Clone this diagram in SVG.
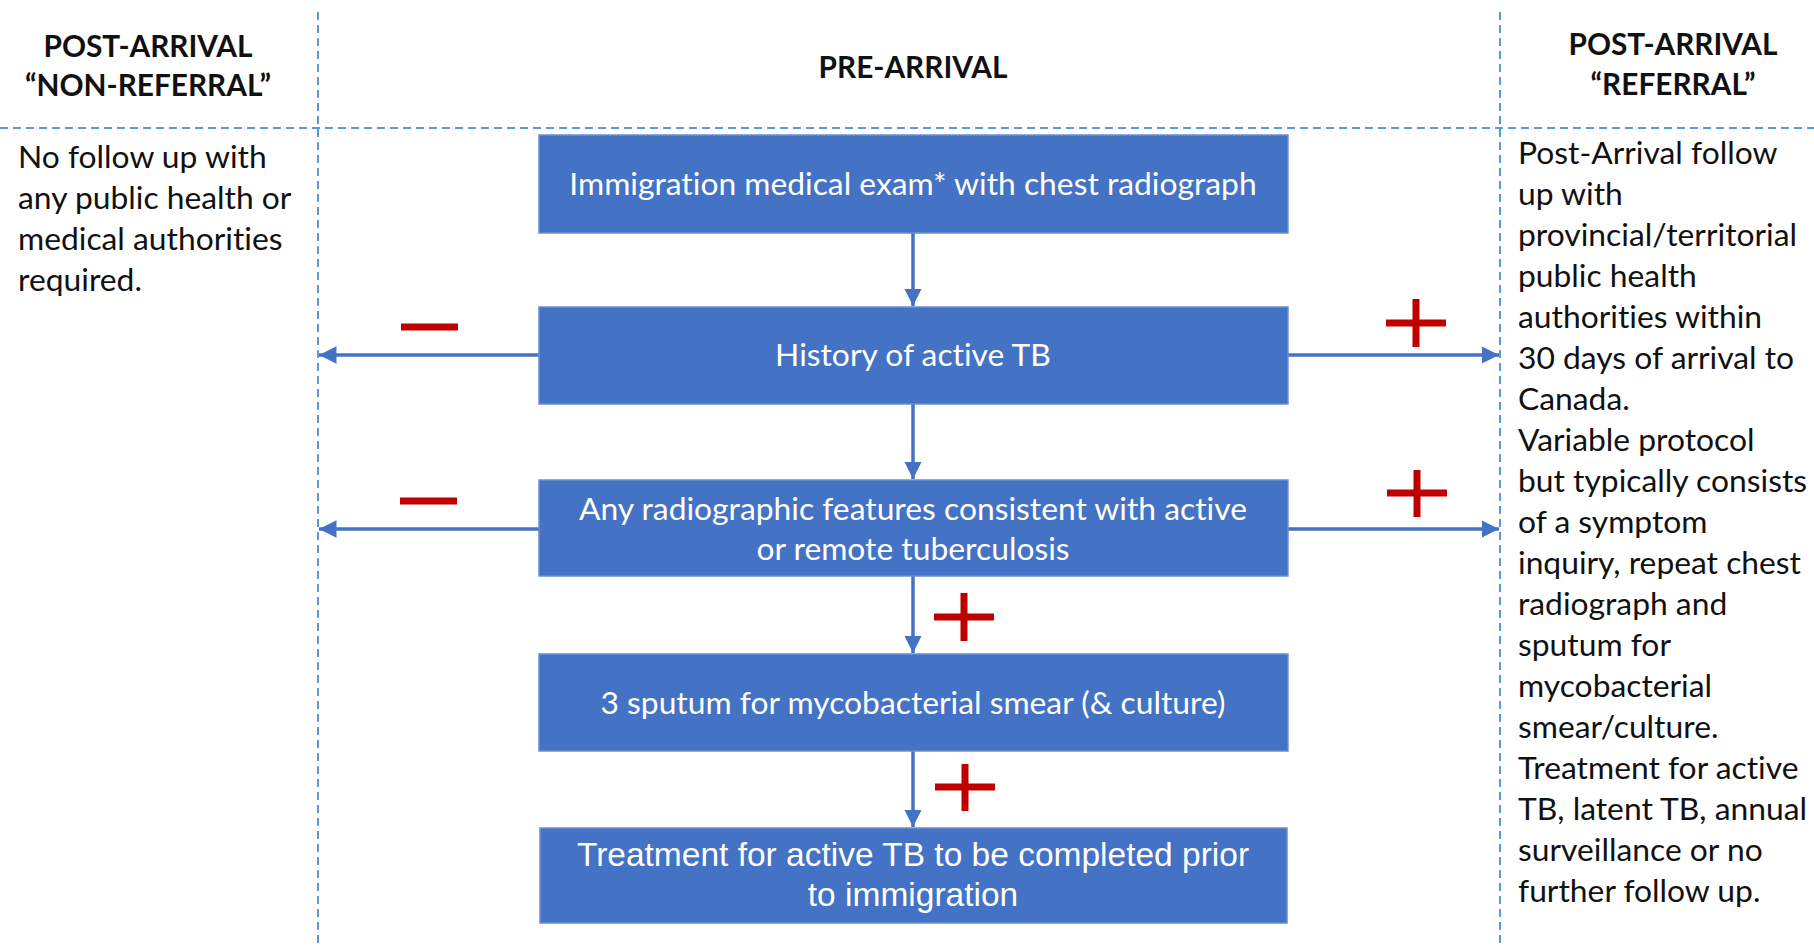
<svg xmlns="http://www.w3.org/2000/svg" width="1814" height="946" viewBox="0 0 1814 946">
<style>
text{font-variant-ligatures:none}
.dash{stroke:#5B9BD5;stroke-width:2;stroke-dasharray:8 5;fill:none}
.box{fill:#4472C4;stroke:#6A8FD2;stroke-width:1.5}
.bt{font-family:Lato,"Open Sans",sans-serif;font-size:31.8px;fill:#fff;text-anchor:middle}
.bt2{font-family:"Liberation Sans",Arial,sans-serif;font-size:33.5px;fill:#fff;text-anchor:middle}
.hd{font-family:Lato,"Open Sans",sans-serif;font-size:29.8px;font-weight:bold;fill:#111;text-anchor:middle}
.tx{font-family:Lato,"Open Sans",sans-serif;font-size:31.8px;fill:#111}
.conn{stroke:#4472C4;stroke-width:3.5;fill:none}
.sign{stroke:#C00000;stroke-width:7;fill:none}
</style>
<defs>
<marker id="ah" viewBox="0 0 10 10" refX="10" refY="5" markerWidth="5" markerHeight="5" markerUnits="strokeWidth" orient="auto">
<path d="M0,0 L10,5 L0,10 z" fill="#4472C4"/>
</marker>
</defs>
<rect width="1814" height="946" fill="#fff"/>
<g id="gridlines">
<line class="dash" x1="318" y1="12" x2="318" y2="946"/>
<line class="dash" x1="1500" y1="12" x2="1500" y2="946"/>
<line class="dash" x1="0" y1="128" x2="1814" y2="128"/>
</g>
<g id="headers">
<text class="hd" x="148" y="57">POST-ARRIVAL</text>
<text class="hd" x="148" y="96">“NON-REFERRAL”</text>
<text class="hd" x="913" y="78">PRE-ARRIVAL</text>
<text class="hd" x="1673" y="55">POST-ARRIVAL</text>
<text class="hd" x="1673" y="95">“REFERRAL”</text>
</g>
<g id="non-referral-text">
<text class="tx" x="18" y="168">No follow up with</text>
<text class="tx" x="18" y="209">any public health or</text>
<text class="tx" x="18" y="250">medical authorities</text>
<text class="tx" x="18" y="291">required.</text>
</g>
<g id="referral-text">
<text class="tx" x="1518" y="164">Post-Arrival follow</text>
<text class="tx" x="1518" y="205">up with</text>
<text class="tx" x="1518" y="246">provincial/territorial</text>
<text class="tx" x="1518" y="287">public health</text>
<text class="tx" x="1518" y="328">authorities within</text>
<text class="tx" x="1518" y="369">30 days of arrival to</text>
<text class="tx" x="1518" y="410">Canada.</text>
<text class="tx" x="1518" y="451">Variable protocol</text>
<text class="tx" x="1518" y="492">but typically consists</text>
<text class="tx" x="1518" y="533">of a symptom</text>
<text class="tx" x="1518" y="574">inquiry, repeat chest</text>
<text class="tx" x="1518" y="615">radiograph and</text>
<text class="tx" x="1518" y="656">sputum for</text>
<text class="tx" x="1518" y="697">mycobacterial</text>
<text class="tx" x="1518" y="738">smear/culture.</text>
<text class="tx" x="1518" y="779">Treatment for active</text>
<text class="tx" x="1518" y="820">TB, latent TB, annual</text>
<text class="tx" x="1518" y="861">surveillance or no</text>
<text class="tx" x="1518" y="902">further follow up.</text>
</g>
<g id="connectors">
<line class="conn" x1="913" y1="233" x2="913" y2="306" marker-end="url(#ah)"/>
<line class="conn" x1="913" y1="404" x2="913" y2="479" marker-end="url(#ah)"/>
<line class="conn" x1="913" y1="576" x2="913" y2="653" marker-end="url(#ah)"/>
<line class="conn" x1="913" y1="751" x2="913" y2="827" marker-end="url(#ah)"/>
<line class="conn" x1="539" y1="355" x2="319" y2="355" marker-end="url(#ah)"/>
<line class="conn" x1="1288" y1="355" x2="1499" y2="355" marker-end="url(#ah)"/>
<line class="conn" x1="539" y1="529" x2="319" y2="529" marker-end="url(#ah)"/>
<line class="conn" x1="1288" y1="529" x2="1499" y2="529" marker-end="url(#ah)"/>
</g>
<g id="signs">
<path class="sign" d="M401,327 H458"/>
<path class="sign" d="M400,501 H457"/>
<path class="sign" d="M1386,323 H1446 M1416,299 V347"/>
<path class="sign" d="M1387,493 H1447 M1417,470 V517"/>
<path class="sign" d="M934,617 H994 M964,593 V641"/>
<path class="sign" d="M935,787 H995 M965,764 V811"/>
</g>
<g id="node-exam">
<rect class="box" x="539" y="135" width="749" height="98"/>
<text class="bt" x="913" y="195">Immigration medical exam* with chest radiograph</text>
</g>
<g id="node-history">
<rect class="box" x="539" y="307" width="749" height="97"/>
<text class="bt" x="913" y="366">History of active TB</text>
</g>
<g id="node-radiographic">
<rect class="box" x="539" y="480" width="749" height="96"/>
<text class="bt" x="913" y="520">Any radiographic features consistent with active</text>
<text class="bt" x="913" y="560">or remote tuberculosis</text>
</g>
<g id="node-sputum">
<rect class="box" x="539" y="654" width="749" height="97"/>
<text class="bt" x="913" y="714">3 sputum for mycobacterial smear (&amp; culture)</text>
</g>
<g id="node-treatment">
<rect class="box" x="540" y="828" width="747" height="95"/>
<text class="bt2" x="913" y="866">Treatment for active TB to be completed prior</text>
<text class="bt2" x="913" y="906">to immigration</text>
</g>
</svg>
